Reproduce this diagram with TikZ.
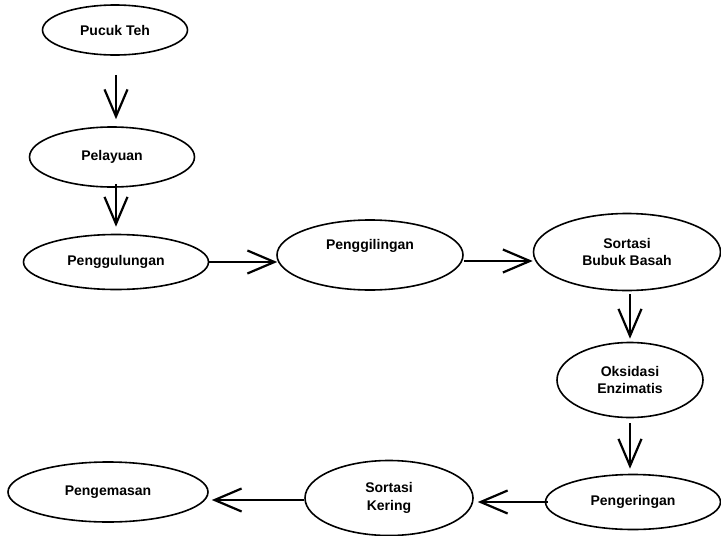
\documentclass[tikz,border=0pt]{standalone}
\usepackage{fontspec}
\setmainfont{Liberation Sans}
\usetikzlibrary{shapes.geometric,arrows.meta,calc}
\begin{document}
\begin{tikzpicture}[x=1pt,y=-1pt,
  ell/.style={ellipse, draw, line width=1.6pt, inner sep=0pt, align=center,
    font=\fontsize{14}{17.5}\selectfont\bfseries},
  lbl/.style={inner sep=0pt, align=center, font=\fontsize{14}{17.5}\selectfont\bfseries},
  arr/.style={line width=2.2pt, -{Straight Barb[length=27pt,width=23pt,line width=2.2pt]}}]
\useasboundingbox[fill=white] (0,0) rectangle (721,536);
\node[ell, minimum width=145pt, minimum height=50pt] (teh) at (115,30) {Pucuk Teh};
\node[ell, minimum width=165pt, minimum height=60pt] (pel) at (112,157) {Pelayuan};
\node[ell, minimum width=185pt, minimum height=55pt] (gul) at (116,262) {Penggulungan};
\node[ell, minimum width=186pt, minimum height=70pt] (gil) at (370,255) {};
\node[lbl] (giltxt) at (370,246) {Penggilingan};
\node[ell, minimum width=187pt, minimum height=77pt] (bbb) at (627,252) {Sortasi\\Bubuk Basah};
\node[ell, minimum width=146pt, minimum height=75pt] (oks) at (630,380) {Oksidasi\\Enzimatis};
\node[ell, minimum width=175pt, minimum height=55pt] (ker) at (633,502) {Pengeringan};
\node[ell, minimum width=168pt, minimum height=75pt] (skr) at (389,498) {Sortasi\\Kering};
\node[ell, minimum width=200pt, minimum height=60pt] (kms) at (108,492) {Pengemasan};

\draw[arr] ($(teh.south)+(1,19)$) -- ($(teh.south |- pel.north)+(1,-7)$);
\draw[arr] ($(pel.south)+(4,-4)$) -- ($(pel.south |- gul.north)+(4,-7)$);
\draw[arr] (gul.east) -- ($(gul.east -| gil.west)+(1,0)$);
\draw[arr] ($(gil.east)+(0,6)$) -- ($(bbb.west)+(0,9)$);
\draw[arr] ($(bbb.south)+(3,3)$) -- ($(bbb.south |- oks.north)+(3,-3)$);
\draw[arr] ($(oks.south)+(0,5)$) -- ($(oks.south |- ker.north)+(0,-5)$);
\draw[arr] ($(ker.west)+(3,0)$) -- ($(ker.west -| skr.east)+(4,0)$);
\draw[arr] ($(skr.west)+(0,2)$) -- ($(skr.west -| kms.east)+(3,2)$);
\end{tikzpicture}
\end{document}
